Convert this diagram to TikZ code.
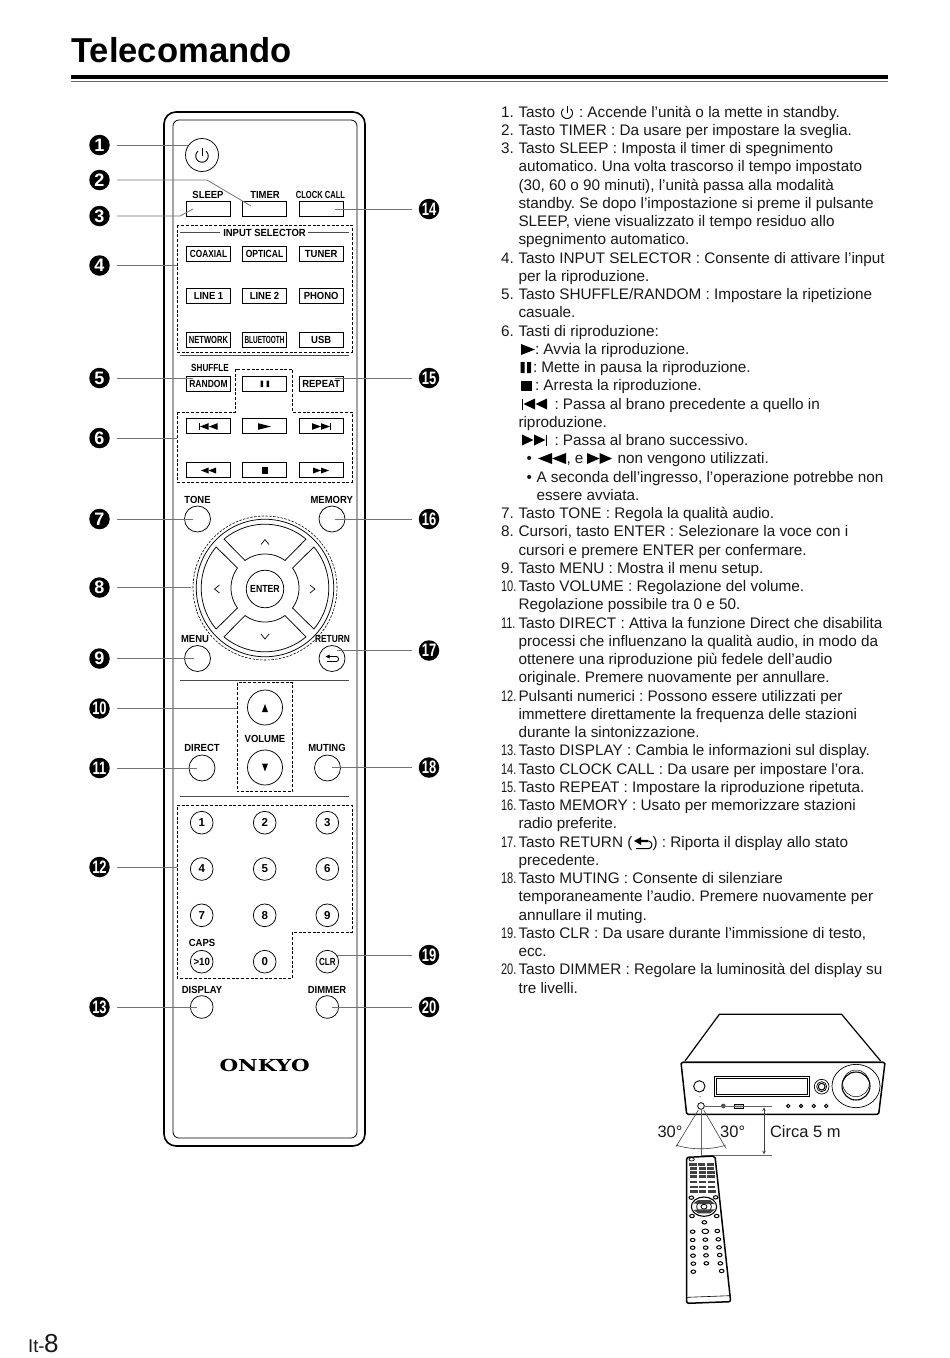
\documentclass[tikz,border=0pt]{standalone}
\usepackage{fontspec}
\usepackage{graphicx}
\setmainfont{Liberation Sans}
\newfontfamily\onkyofont{DejaVu Serif}
\newfontfamily\lblfont[FakeStretch=0.92]{Liberation Sans}
\frenchspacing
\newcounter{tn}
\newcommand\sx[2]{\scalebox{#1}[1]{#2}}
\newcommand\fz[1]{\fontsize{#1}{#1}\selectfont}
\newcommand\bl[3]{\stepcounter{tn}\pgfmathsetmacro\yy{117+18.25*#1}\node[bodyt] (t\arabic{tn}) at (#2,\yy) {#3};}
\newcommand\tri[4]{\fill (#1,#3-#4) -- (#2,#3) -- (#1,#3+#4) -- cycle;}
\newcommand\rbox[5]{\node[rbtn,minimum width=#4pt,minimum height=15pt,rectangle] (#1) at (#2,#3) {#5};}
\newcommand\rcirc[5]{\node[rbtn,circle,minimum size=#4pt] (#1) at (#2,#3) {#5};}
\newcommand\lab[4]{\node[btnl] (#1) at (#2,#3) {#4};}
\tikzset{
 bodyt/.style={anchor=base west,inner sep=0pt,outer sep=0pt,font=\fz{15.3},text=black!90},
 rbtn/.style={draw=black,line width=0.75pt,fill=white,inner sep=0pt,outer sep=0pt,font=\lblfont\fz{10.3}\bfseries,text=black},
 btnl/.style={inner sep=0pt,outer sep=0pt,font=\lblfont\fz{10.3}\bfseries,text=black},
 callout/.style={circle,fill=black,minimum size=20.5pt,inner sep=0pt,outer sep=0pt,text=white,font=\fz{18}\bfseries},
 leader/.style={draw=black!55,line width=0.8pt},
 dash box/.style={draw=black,line width=0.7pt,dash pattern=on 3pt off 1.7pt},
 sep line/.style={draw=black!70,line width=0.7pt},
 callt/.style={inner sep=0pt,outer sep=0pt,font=\fz{16.5},text=black!90},
}
\begin{document}
\begin{tikzpicture}[x=1pt,y=-1pt]
\useasboundingbox[fill=white] (0,0) rectangle (950,1358);
% header
\node[anchor=base west,inner sep=0pt,font=\fz{34.6}\bfseries] (title) at (71,62) {Telecomando};
\fill[black] (71,75) rectangle (888,79);
\draw[black!60,line width=0.6pt] (71,81.5) -- (888,81.5);
\node[anchor=base west,inner sep=0pt,font=\fz{18.5},text=black!90] (pg1) at (28,1352.5) {It-};
\node[anchor=base west,inner sep=0pt,font=\fz{26},text=black!90] (pg2) at (44,1352.5) {8};
% remote body
\draw[line width=1.6pt,rounded corners=12pt] (164,112) rectangle (365,1146);
\draw[line width=0.8pt,rounded corners=6pt] (173,120) rectangle (357,1138);
% dashed groups
\draw[dash box] (177,225) rectangle (352,352);
\draw[dash box] (177,412) -- (235.5,412) -- (235.5,369) -- (292.5,369) -- (292.5,412) -- (352,412) -- (352,482) -- (177,482) -- cycle;
\draw[dash box] (237,682.7) rectangle (292.5,791.7);
\draw[dash box] (177,805) -- (352,805) -- (352,932) -- (292.5,932) -- (292.5,978) -- (177,978) -- cycle;
\draw[sep line] (180,232) -- (220,232) (308,232) -- (349,232);
\draw[sep line] (180,355) -- (349,355);
\draw[sep line] (180,680.7) -- (349,680.7);
\draw[sep line,line width=0.9pt] (180,796) -- (349,796);
% top row
\rcirc{pwr}{202}{155}{33}{}
\draw[line width=0.9pt] plot[domain=-50:230,samples=30] ({202+6.2*cos(\x+0)},{156+6.2*sin(\x)});
\draw[line width=0.9pt] (202,148) -- (202,156);
\lab{lsleep}{208}{195}{SLEEP}
\lab{ltimer}{265}{195}{TIMER}
\lab{lclock}{320.5}{195}{\sx{.8}{CLOCK CALL}}
\rbox{bsleep}{208.5}{208.5}{43.5}{}
\rbox{btimer}{264.5}{208.5}{43.5}{}
\rbox{bclock}{321.2}{208.5}{43.5}{}
\lab{linput}{264.5}{232.5}{INPUT SELECTOR}
\rbox{bcoax}{208.5}{254}{43.5}{\sx{.87}{COAXIAL}}
\rbox{bopt}{264.5}{254}{43.5}{\sx{.9}{OPTICAL}}
\rbox{btun}{321.2}{254}{43.5}{TUNER}
\rbox{blin1}{208.5}{296}{43.5}{LINE 1}
\rbox{blin2}{264.5}{296}{43.5}{LINE 2}
\rbox{bpho}{321.2}{296}{43.5}{PHONO}
\rbox{bnet}{208.5}{340}{43.5}{\sx{.8}{NETWORK}}
\rbox{bblu}{264.5}{340}{43.5}{\sx{.68}{BLUETOOTH}}
\rbox{busb}{321.2}{340}{43.5}{USB}
\lab{lshuf}{210}{368}{\sx{.86}{SHUFFLE}}
\rbox{brand}{208.5}{383.5}{43.5}{\sx{.9}{RANDOM}}
\rbox{bpause}{264.5}{383.5}{43.5}{}
\rbox{brep}{321.2}{383.5}{43.5}{REPEAT}
\fill (260.5,380.5) rectangle (263.2,387) (266.5,380.5) rectangle (269.2,387);
\rbox{bprev}{208.5}{425.5}{43.5}{}
\rbox{bplay}{264.5}{425.5}{43.5}{}
\rbox{bnext}{321.2}{425.5}{43.5}{}
\rbox{brew}{208.5}{469.5}{43.5}{}
\rbox{bstop}{264.5}{469.5}{43.5}{}
\rbox{bff}{321.2}{469.5}{43.5}{}
\fill (198.5,423) rectangle (199.5,430);
\tri{208.5}{200}{426.5}{3.3}\tri{217.5}{209}{426.5}{3.3}
\tri{258}{271}{426.5}{3.3}
\tri{312}{321}{426.5}{3.3}\tri{321}{330}{426.5}{3.3}
\fill (330,423) rectangle (331,430);
\tri{208.5}{201}{470.5}{3}\tri{216}{208.5}{470.5}{3}
\fill (262,467) rectangle (268,474);
\tri{313}{321}{470.5}{3}\tri{321}{329}{470.5}{3}
% tone row
\lab{ltone}{197.5}{499.5}{TONE}
\lab{lmem}{331.7}{499.5}{MEMORY}
\rcirc{btone}{197.5}{519}{26}{}
\rcirc{bmem}{332}{519}{26}{}
% nav
\node[dash box,circle,minimum size=144pt,inner sep=0pt,outer sep=0pt,line width=.6pt,dash pattern=on 2.4pt off 1.4pt] (navd) at (265,588) {};
\node[draw,circle,minimum size=137.5pt,inner sep=0pt,outer sep=0pt,line width=0.75pt] (navo) at (265,588) {};
\foreach \r in {0,90,180,270}{
 \draw[line width=0.75pt] plot[domain=-130:-50,samples=24] ({265+63.8*cos(\x+\r)},{588+63.8*sin(\x+\r)})
   -- plot[domain=-54:-126,samples=20] ({265+34*cos(\x+\r)},{588+34*sin(\x+\r)}) -- cycle;
}
\node[rbtn,circle,minimum size=37.5pt] (benter) at (265,589) {\sx{.92}{ENTER}};
\draw[line width=.7pt] (261,544.5) -- (265,539.5) -- (269,544.5);
\draw[line width=.7pt] (261,634) -- (265,639) -- (269,634);
\draw[line width=.7pt] (219.5,585) -- (214.5,589) -- (219.5,593);
\draw[line width=.7pt] (310,585) -- (315,589) -- (310,593);
% menu row
\lab{lmenu}{195}{639}{MENU}
\lab{lret}{332.5}{639}{\sx{.88}{RETURN}}
\rcirc{bmenu}{197.5}{658.5}{26}{}
\rcirc{bret}{332}{658.5}{26}{}
\draw[line width=.8pt] (326,656.5) -- (336,656.5) plot[domain=-90:90,samples=12] ({336+2.5*cos(\x)},{659+2.5*sin(\x)}) (336,661.5) -- (327,661.5);
\tri{329.5}{325.5}{656.5}{2}
% volume
\rcirc{bvup}{265}{707.5}{35}{}
\rcirc{bvdn}{265}{767.5}{35}{}
\lab{lvol}{265}{739}{VOLUME}
\fill (265,704) -- (268,712) -- (262,712) -- cycle;
\fill (265,771.5) -- (268,763.5) -- (262,763.5) -- cycle;
\lab{ldir}{202}{748}{DIRECT}
\lab{lmut}{327}{748}{MUTING}
\rcirc{bdir}{202}{768}{26}{}
\rcirc{bmut}{327.5}{768}{26}{}
% numerals
\tikzset{num/.style={rbtn,circle,minimum size=22.7pt,font=\fz{11.5}\bfseries}}
\node[num] (n1) at (201.7,822.7) {1};
\node[num] (n2) at (264.7,822.7) {2};
\node[num] (n3) at (327.3,822.7) {3};
\node[num] (n4) at (201.7,869) {4};
\node[num] (n5) at (264.7,869) {5};
\node[num] (n6) at (327.3,869) {6};
\node[num] (n7) at (201.7,915.3) {7};
\node[num] (n8) at (264.7,915.3) {8};
\node[num] (n9) at (327.3,915.3) {9};
\node[num,font=\fz{10.5}\bfseries] (n10) at (201.7,961.7) {\sx{.92}{>10}};
\node[num] (n0) at (264.7,961.7) {0};
\node[num,font=\fz{10.3}\bfseries] (nclr) at (327.3,961.7) {\sx{.78}{CLR}};
\lab{lcaps}{202}{942.5}{CAPS}
\lab{ldisp}{202}{990}{DISPLAY}
\lab{ldim}{327}{990}{DIMMER}
\node[num] (bdisp) at (201.7,1007) {};
\node[num] (bdim) at (327.3,1007) {};
\node[inner sep=0pt,font=\fz{16.5}\onkyofont\bfseries] (onkyo) at (264.7,1065) {\sx{1.3}{ONKYO}};
% callouts
\node[callout] (c1) at (99.5,145) {1};
\node[callout] (c2) at (99.5,180) {2};
\node[callout] (c3) at (99.5,216) {3};
\node[callout] (c4) at (99.5,265.5) {4};
\node[callout] (c5) at (99.5,378) {5};
\node[callout] (c6) at (99.5,438) {6};
\node[callout] (c7) at (99.5,519) {7};
\node[callout] (c8) at (99.5,587.5) {8};
\node[callout] (c9) at (99.5,658.5) {9};
\node[callout] (c10) at (99.5,708.5) {\sx{.72}{10}};
\node[callout] (c11) at (99.5,768) {\sx{.72}{11}};
\node[callout] (c12) at (99.5,867) {\sx{.72}{12}};
\node[callout] (c13) at (99.5,1007) {\sx{.72}{13}};
\node[callout] (c14) at (429,209) {\sx{.72}{14}};
\node[callout] (c15) at (429,378) {\sx{.72}{15}};
\node[callout] (c16) at (429,519) {\sx{.72}{16}};
\node[callout] (c17) at (429,650.5) {\sx{.72}{17}};
\node[callout] (c18) at (429,767.5) {\sx{.72}{18}};
\node[callout] (c19) at (429,955) {\sx{.72}{19}};
\node[callout] (c20) at (429,1007) {\sx{.72}{20}};
\foreach \n/\ex/\ey in {1/188/145,4/177/265.5,5/193/378,6/177/438,7/193/519,8/191/587.5,9/194/658.5,10/237/708.5,11/197/768,12/177/867,13/197/1007,14/335/209,15/335/378,16/335/519,17/337/650.5,18/332/767.5,19/337/955,20/332/1007}{
 \coordinate (e\n) at (\ex,\ey);
 \draw[leader,shorten <=7pt] (c\n) -- (e\n);
}
\coordinate (k2) at (207,180); \coordinate (e2) at (251,206);
\coordinate (k3) at (180,216); \coordinate (e3) at (193,209);
\draw[leader] (c2.center) ++(17.5,0) -- (k2) -- (e2);
\draw[leader] (c3.center) ++(17.5,0) -- (k3) -- (e3);
% body text
\bl{0}{501}{1.}\bl{0}{518.5}{Tasto}\bl{0}{579}{: Accende l’unità o la mette in standby.}
\draw[line width=.9pt] plot[domain=-50:230,samples=30] ({567+5.5*cos(\x)},{113+5.5*sin(\x)});
\draw[line width=.9pt] (567,105.5) -- (567,113);
\bl{1}{501}{2.}\bl{1}{518.5}{Tasto TIMER : Da usare per impostare la sveglia.}
\bl{2}{501}{3.}\bl{2}{518.5}{Tasto SLEEP : Imposta il timer di spegnimento}
\bl{3}{518.5}{automatico. Una volta trascorso il tempo impostato}
\bl{4}{518.5}{(30, 60 o 90 minuti), l’unità passa alla modalità}
\bl{5}{518.5}{standby. Se dopo l’impostazione si preme il pulsante}
\bl{6}{518.5}{SLEEP, viene visualizzato il tempo residuo allo}
\bl{7}{518.5}{spegnimento automatico.}
\bl{8}{501}{4.}\bl{8}{518.5}{Tasto INPUT SELECTOR : Consente di attivare l’input}
\bl{9}{518.5}{per la riproduzione.}
\bl{10}{501}{5.}\bl{10}{518.5}{Tasto SHUFFLE/RANDOM : Impostare la ripetizione}
\bl{11}{518.5}{casuale.}
\bl{12}{501}{6.}\bl{12}{518.5}{Tasti di riproduzione:}
\bl{13}{535}{: Avvia la riproduzione.}
\tri{521}{535}{349.5}{5.5}
\bl{14}{533}{: Mette in pausa la riproduzione.}
\fill (520.5,362) rectangle (524.5,373) (527,362) rectangle (531,373);
\bl{15}{535}{: Arresta la riproduzione.}
\fill (520.5,380.5) rectangle (531.5,391);
\bl{16}{554.5}{: Passa al brano precedente a quello in}
\fill (522,398.5) rectangle (523,409.5);
\tri{535}{523.5}{404}{5.5}\tri{547}{535.5}{404}{5.5}
\bl{17}{518.5}{riproduzione.}
\bl{18}{554.5}{: Passa al brano successivo.}
\tri{522}{533.5}{440}{5.5}\tri{534}{545.5}{440}{5.5}
\fill (546,434.5) rectangle (547,445.5);
\bl{19}{526.5}{•}\bl{19}{566.5}{, e}\bl{19}{617.5}{non vengono utilizzati.}
\tri{552}{538}{458.5}{5.5}\tri{566}{552}{458.5}{5.5}
\tri{587}{599.5}{458.5}{5.5}\tri{599.5}{612}{458.5}{5.5}
\bl{20}{526.5}{•}\bl{20}{536.5}{A seconda dell’ingresso, l’operazione potrebbe non}
\bl{21}{536.5}{essere avviata.}
\bl{22}{501}{7.}\bl{22}{518.5}{Tasto TONE : Regola la qualità audio.}
\bl{23}{501}{8.}\bl{23}{518.5}{Cursori, tasto ENTER : Selezionare la voce con i}
\bl{24}{518.5}{cursori e premere ENTER per confermare.}
\bl{25}{501}{9.}\bl{25}{518.5}{Tasto MENU : Mostra il menu setup.}
\bl{26}{501}{\sx{.72}{10.}}\bl{26}{518.5}{Tasto VOLUME : Regolazione del volume.}
\bl{27}{518.5}{Regolazione possibile tra 0 e 50.}
\bl{28}{501}{\sx{.72}{11.}}\bl{28}{518.5}{Tasto DIRECT : Attiva la funzione Direct che disabilita}
\bl{29}{518.5}{processi che influenzano la qualità audio, in modo da}
\bl{30}{518.5}{ottenere una riproduzione più fedele dell’audio}
\bl{31}{518.5}{originale. Premere nuovamente per annullare.}
\bl{32}{501}{\sx{.72}{12.}}\bl{32}{518.5}{Pulsanti numerici : Possono essere utilizzati per}
\bl{33}{518.5}{immettere direttamente la frequenza delle stazioni}
\bl{34}{518.5}{durante la sintonizzazione.}
\bl{35}{501}{\sx{.72}{13.}}\bl{35}{518.5}{Tasto DISPLAY : Cambia le informazioni sul display.}
\bl{36}{501}{\sx{.72}{14.}}\bl{36}{518.5}{Tasto CLOCK CALL : Da usare per impostare l’ora.}
\bl{37}{501}{\sx{.72}{15.}}\bl{37}{518.5}{Tasto REPEAT : Impostare la riproduzione ripetuta.}
\bl{38}{501}{\sx{.72}{16.}}\bl{38}{518.5}{Tasto MEMORY : Usato per memorizzare stazioni}
\bl{39}{518.5}{radio preferite.}
\bl{40}{501}{\sx{.72}{17.}}\bl{40}{518.5}{Tasto RETURN (}\bl{40}{652.5}{) : Riporta il display allo stato}
\fill (634,841) -- (641,837) -- (641,839.8) -- (648,839.8) -- (648,842.2) -- (641,842.2) -- (641,845) -- cycle;
\draw[line width=1pt] (648,841) -- plot[domain=-90:90,samples=12] ({648+3.8*cos(\x)},{844.8+3.8*sin(\x)}) -- (636,848.6);
\bl{41}{518.5}{precedente.}
\bl{42}{501}{\sx{.72}{18.}}\bl{42}{518.5}{Tasto MUTING : Consente di silenziare}
\bl{43}{518.5}{temporaneamente l’audio. Premere nuovamente per}
\bl{44}{518.5}{annullare il muting.}
\bl{45}{501}{\sx{.72}{19.}}\bl{45}{518.5}{Tasto CLR : Da usare durante l’immissione di testo,}
\bl{46}{518.5}{ecc.}
\bl{47}{501}{\sx{.72}{20.}}\bl{47}{518.5}{Tasto DIMMER : Regolare la luminosità del display su}
\bl{48}{518.5}{tre livelli.}
% receiver and remote sketch (units: 1/3 px)
\begin{scope}[shift={(640,1000)},x=0.33333pt,y=-0.33333pt]
\draw[line width=1.2pt] (135,183) -- (238,43) -- (605,43) -- (722,183);
\draw[line width=1.5pt,rounded corners=1.5pt] (123,187) -- (735,187) -- (716,343) -- (140,343) -- cycle;
\draw[line width=0.5pt,black!60] (130,183) -- (728,183);
\draw[line width=1pt] (224,228) rectangle (508,290);
\draw[line width=0.5pt] (230,234) rectangle (502,284);
\draw[line width=0.7pt] (545,260) circle (22);
\draw[line width=0.7pt] (545,260) circle (15);
\draw[line width=1pt] (545,260) circle (10);
\draw[line width=0.7pt] (648,258) ellipse (72 and 65);
\draw[line width=1.1pt] (648,258) circle (42);
\draw[line width=0.5pt] (648,250) circle (40);
\draw[line width=0.9pt] (178,259) circle (17);
\fill (180,290) circle (1.5);
\draw[line width=0.8pt] (183,318) circle (10);
\fill[black!70] (250,318) circle (7);
\draw[line width=0.7pt,fill=black!20] (282,312) rectangle (311,325);
\foreach \xx in {445,483,521,559} \draw[line width=1pt] (\xx,318) circle (5);
\draw[line width=.6pt,black!60] (193,320) -- (397,320);
\draw[line width=.6pt,black!60] (183,328) -- (183,465) -- (397,465);
\draw[line width=.6pt,black!75] (175,330) -- (108,440);
\draw[line width=.6pt,black!75] (191,330) -- (258,445);
\draw[line width=.6pt,black!75] (108,435) .. controls (150,450) and (215,450) .. (258,435);
\draw[line width=.6pt,black!75,<->,>=stealth] (372,322) -- (372,463);
\node[callt] (a1) at (90,395) {30°};
\node[callt] (a2) at (278,395) {30°};
\node[callt,anchor=west] (d5) at (390,394) {Circa 5 m};
% small remote
\draw[line width=1.5pt,rounded corners=2pt] (140,472) -- (225,468) -- (272,905) -- (140,910) -- cycle;
\draw[line width=0.6pt] (141,892) -- (270,887);
\draw[line width=0.7pt] (155,478) ellipse (8 and 5);
\foreach \yy/\dd in {494/0,506/1,518/2,530/3,546/4,561/5,575/6}{
 \fill[black!75] (148+\dd*0.5,\yy-4) rectangle (170+\dd*0.5,\yy+3);
 \fill[black!75] (175+\dd*0.5,\yy-4) rectangle (196+\dd*0.5,\yy+3);
 \fill[black!75] (200+\dd*0.8,\yy-4) rectangle (222+\dd*0.8,\yy+3);
}
\foreach \xx/\yy in {154/593,227/592,156/648,230/648,193/667}{
 \draw[line width=1pt] (\xx,\yy) ellipse (7 and 5);
}
\draw[line width=1.1pt] (192,620) ellipse (38 and 29);
\draw[line width=.8pt] (192,620) ellipse (22 and 18);
\fill[black!75] (160,610) -- (175,600) -- (210,600) -- (225,612) -- (210,612) -- (175,612) -- cycle;
\fill[black!75] (160,630) -- (175,640) -- (210,640) -- (225,628) -- (210,628) -- (175,628) -- cycle;
\draw[line width=.8pt,fill=white] (192,620) ellipse (9 and 7);
\draw[line width=1pt] (196,694) ellipse (10 and 7);
\foreach \xx/\yy in {158/695,232/693,158/720,196/719,235/718,158/743,197/743,237/742,159/767,198/766,239/765,160/791,199/790,241/790,160/815,245/813}{
 \draw[line width=1pt] (\xx,\yy) ellipse (7 and 5);
}
\end{scope}
\end{tikzpicture}
\end{document}
